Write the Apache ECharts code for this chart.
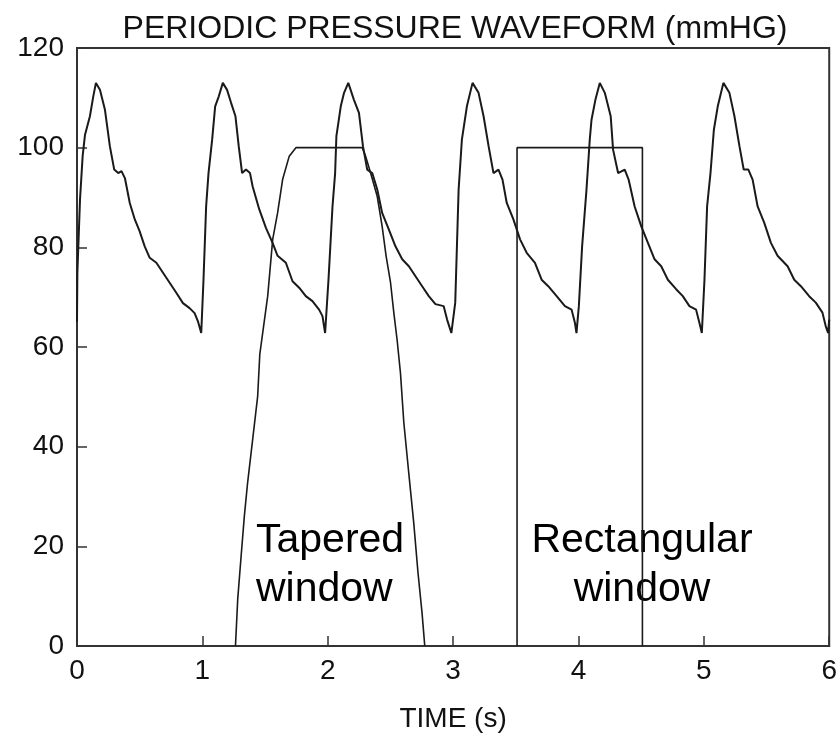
<!DOCTYPE html>
<html>
<head>
<meta charset="utf-8">
<script src="https://cdn.jsdelivr.net/npm/echarts@6/dist/echarts.min.js"></script>
<style>
html,body{margin:0;padding:0;background:#fff;}
#chart{width:840px;height:738px;}
</style>
</head>
<body>
<div id="chart"></div>
<script>
// ---- Data ----
const chartTitle = 'PERIODIC PRESSURE WAVEFORM (mmHG)';
const xAxisName = 'TIME (s)';
const xTicks = [0, 1, 2, 3, 4, 5, 6];
const yTicks = [0, 20, 40, 60, 80, 100, 120];

// pressure waveform [time (s), pressure (mmHg)]
const pressureCycle1 = [
  [0.000, 65.0], [0.003, 74.9], [0.024, 89.6], [0.045, 98.3], [0.064, 102.6], [0.103, 106.3],
  [0.130, 110.3], [0.151, 113.0], [0.183, 111.6], [0.223, 107.6], [0.262, 100.3], [0.297, 95.6],
  [0.329, 94.9], [0.355, 95.3], [0.382, 93.9], [0.421, 88.9], [0.461, 85.6], [0.500, 83.2],
  [0.540, 80.2], [0.580, 77.9], [0.633, 76.9], [0.686, 74.9], [0.739, 72.9], [0.792, 70.9],
  [0.845, 68.8], [0.898, 67.8], [0.938, 66.8], [0.964, 65.2], [0.991, 62.8]
];
const pressureCycle2 = [
  [1.009, 73.5], [1.030, 88.2], [1.049, 94.9], [1.078, 101.6], [1.102, 108.3], [1.131, 110.3],
  [1.163, 113.0], [1.197, 111.6], [1.229, 109.0], [1.264, 106.3], [1.290, 100.3], [1.317, 94.9],
  [1.348, 95.6], [1.380, 94.9], [1.401, 92.2], [1.454, 87.6], [1.507, 83.9], [1.560, 80.9],
  [1.600, 78.3], [1.666, 76.9], [1.719, 73.2], [1.772, 71.9], [1.825, 70.2], [1.878, 69.2],
  [1.931, 67.5], [1.958, 66.2], [1.979, 62.8]
];
const pressureCycle3 = [
  [2.006, 73.5], [2.038, 88.2], [2.059, 94.9], [2.069, 102.3], [2.104, 108.3], [2.130, 111.0],
  [2.164, 113.0], [2.209, 109.6], [2.249, 107.0], [2.281, 100.3], [2.315, 95.6], [2.355, 94.9],
  [2.395, 91.6], [2.434, 86.9], [2.487, 83.6], [2.540, 80.2], [2.594, 77.6], [2.647, 76.2],
  [2.700, 74.2], [2.753, 72.2], [2.806, 70.2], [2.859, 68.6], [2.925, 68.2], [2.952, 65.5],
  [2.986, 62.8]
];
const pressureCycle4 = [
  [3.017, 68.9], [3.044, 91.6], [3.070, 101.6], [3.110, 108.3], [3.155, 113.0], [3.203, 111.0],
  [3.243, 106.3], [3.283, 100.3], [3.322, 94.9], [3.362, 95.6], [3.394, 93.6], [3.428, 88.9],
  [3.481, 85.6], [3.534, 81.6], [3.587, 78.9], [3.653, 76.9], [3.706, 73.5], [3.759, 72.2],
  [3.826, 70.2], [3.892, 68.2], [3.945, 67.5], [3.972, 64.8], [3.984, 62.8]
];
const pressureCycle5 = [
  [4.003, 68.2], [4.029, 80.2], [4.064, 91.6], [4.090, 101.6], [4.104, 105.6], [4.135, 109.6],
  [4.170, 113.0], [4.210, 111.0], [4.257, 106.3], [4.276, 99.6], [4.316, 94.9], [4.369, 95.6],
  [4.400, 93.6], [4.448, 88.2], [4.501, 84.2], [4.554, 80.9], [4.607, 77.6], [4.660, 76.2],
  [4.713, 73.5], [4.779, 71.6], [4.832, 70.2], [4.885, 68.2], [4.938, 67.5], [4.965, 64.8],
  [4.984, 62.8]
];
const pressureCycle6 = [
  [5.005, 73.5], [5.026, 88.2], [5.053, 94.9], [5.080, 103.6], [5.111, 108.3], [5.156, 113.0],
  [5.204, 111.0], [5.244, 106.3], [5.284, 100.3], [5.318, 95.6], [5.355, 95.6], [5.389, 93.6],
  [5.429, 88.2], [5.482, 84.9], [5.535, 80.9], [5.588, 78.3], [5.668, 76.2], [5.721, 73.5],
  [5.774, 72.2], [5.840, 70.2], [5.893, 68.9], [5.946, 66.9], [5.972, 64.2], [5.991, 62.8],
  [6.000, 65.5]
];

// tapered window [time, value]
const taperedWindow = [
  [1.264, 0], [1.282, 9.4], [1.309, 18.0], [1.335, 26.1], [1.361, 32.8], [1.401, 41.4],
  [1.441, 50.1], [1.458, 58.5], [1.521, 70.2], [1.561, 81.6], [1.600, 86.9], [1.640, 93.6],
  [1.693, 98.3], [1.746, 100], [2.275, 100], [2.302, 98.3], [2.342, 94.9], [2.395, 90.2],
  [2.434, 84.2], [2.466, 78.2], [2.501, 72.9], [2.527, 66.9], [2.553, 61.5], [2.580, 54.8],
  [2.607, 44.8], [2.646, 34.8], [2.686, 24.7], [2.720, 14.7], [2.752, 6.7], [2.774, 0]
];
// rectangular window [time, value]
const rectangularWindow = [[3.51, 0], [3.51, 100], [4.51, 100], [4.51, 0]];

const taperedLabel = 'Tapered\nwindow';
const rectangularLabel = 'Rectangular\nwindow';

// ---- Chart ----
const pressureData = [].concat(pressureCycle1, pressureCycle2, pressureCycle3,
  pressureCycle4, pressureCycle5, pressureCycle6);

const FONT = '"Liberation Sans", Arial, Helvetica, sans-serif';
const INK = '#1a1a1a';

const chart = echarts.init(document.getElementById('chart'), null, {renderer: 'canvas'});
chart.setOption({
  animation: false,
  backgroundColor: '#ffffff',
  grid: {
    left: 77, right: 8, top: 48, bottom: 91,
    show: true, borderColor: '#333', borderWidth: 2, backgroundColor: 'transparent'
  },
  xAxis: {
    type: 'value', min: xTicks[0], max: xTicks[xTicks.length - 1], interval: 1,
    name: xAxisName, nameLocation: 'middle', nameGap: 59,
    nameTextStyle: {fontFamily: FONT, fontSize: 28, color: '#111'},
    axisLine: {show: true, onZero: false, lineStyle: {color: '#333', width: 2}},
    axisTick: {show: true, inside: true, length: 10, lineStyle: {color: '#333', width: 1.5}},
    axisLabel: {fontFamily: FONT, fontSize: 28, color: '#111', margin: 11},
    splitLine: {show: false}
  },
  yAxis: {
    type: 'value', min: yTicks[0], max: yTicks[yTicks.length - 1], interval: 20,
    axisLine: {show: true, onZero: false, lineStyle: {color: '#333', width: 2}},
    axisTick: {show: true, inside: true, length: 10, lineStyle: {color: '#333', width: 1.5}},
    axisLabel: {fontFamily: FONT, fontSize: 28, color: '#111', margin: 13},
    splitLine: {show: false}
  },
  series: [
    {
      name: 'Pressure', type: 'line', data: pressureData, showSymbol: false,
      lineStyle: {color: INK, width: 2}, z: 3
    },
    {
      name: 'Tapered window', type: 'line', data: taperedWindow, showSymbol: false,
      lineStyle: {color: INK, width: 1.6}, z: 2
    },
    {
      name: 'Rectangular window', type: 'line', data: rectangularWindow, showSymbol: false,
      lineStyle: {color: INK, width: 1.6}, z: 2
    }
  ],
  graphic: [
    {
      type: 'text', x: 455, y: 13,
      style: {text: chartTitle, font: '32px ' + FONT, fill: '#111', align: 'center', verticalAlign: 'top'}
    },
    {
      type: 'text', x: 256, y: 516,
      style: {text: taperedLabel, font: '41px ' + FONT, fill: '#000', lineHeight: 49, align: 'left', verticalAlign: 'top'}
    },
    {
      type: 'text', x: 642, y: 516,
      style: {text: rectangularLabel, font: '41px ' + FONT, fill: '#000', lineHeight: 49, align: 'center', verticalAlign: 'top'}
    }
  ]
});
</script>
</body>
</html>
